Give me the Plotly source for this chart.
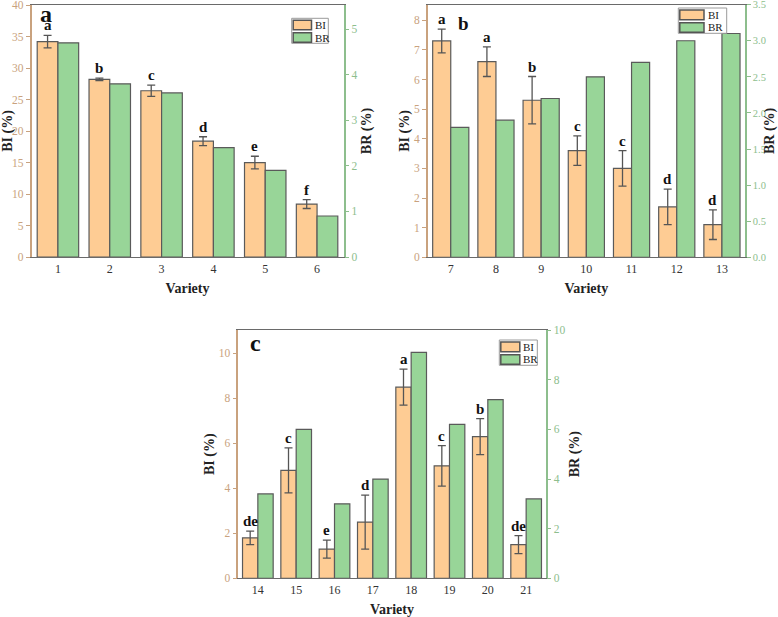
import plotly.graph_objects as go

# ---- Data ----
var_a = [1, 2, 3, 4, 5, 6]
bi_a = [34.2, 28.2, 26.4, 18.4, 15.0, 8.4]
bi_a_err = [1.0, 0.2, 0.9, 0.7, 1.0, 0.7]
br_a = [4.7, 3.8, 3.6, 2.4, 1.9, 0.9]
let_a = ["a", "b", "c", "d", "e", "f"]

var_b = [7, 8, 9, 10, 11, 12, 13]
bi_b = [7.3, 6.6, 5.3, 3.6, 3.0, 1.7, 1.1]
bi_b_err = [0.4, 0.5, 0.8, 0.5, 0.6, 0.6, 0.5]
br_b = [1.8, 1.9, 2.2, 2.5, 2.7, 3.0, 3.1]
let_b = ["a", "a", "b", "c", "c", "d", "d"]

var_c = [14, 15, 16, 17, 18, 19, 20, 21]
bi_c = [1.8, 4.8, 1.3, 2.5, 8.5, 5.0, 6.3, 1.5]
bi_c_err = [0.3, 1.0, 0.4, 1.2, 0.8, 0.9, 0.8, 0.4]
br_c = [3.4, 6.0, 3.0, 4.0, 9.1, 6.2, 7.2, 3.2]
let_c = ["de", "c", "e", "d", "a", "c", "b", "de"]

series_names = ["BI", "BR"]

W, H = 778, 617
FONT = "Liberation Serif"
ORANGE = "#FECC94"
GREEN = "#98D598"
OUTLINE = "#5a5a5a"
TAN = "#C9A27E"
GRN_AX = "#8DBE8D"

fig = go.Figure()

panels = [
    dict(key="a", x=var_a, bi=bi_a, err=bi_a_err, br=br_a, let=let_a,
         px=(31.5, 343.5), py=(5, 257), bi_rng=[0, 40.02], bi_dt=5,
         br_rng=[0, 5.53], br_dt=1, br_fmt="d",
         leg_box=(291.7, 18.3, 328.3, 43.3), lab=(45.5, 13.5, 24),
         st_bi=4, st_br=5, br_fs=11.5),
    dict(key="b", x=var_b, bi=bi_b, err=bi_b_err, br=br_b, let=let_b,
         px=(427.7, 745), py=(4.5, 257.3), bi_rng=[0, 8.53], bi_dt=1,
         br_rng=[0, 3.502], br_dt=0.5, br_fmt=".1f",
         leg_box=(678.3, 8, 726.7, 33.3), lab=(463, 23.5, 19),
         st_bi=1, st_br=3, br_fs=10.5),
    dict(key="c", x=var_c, bi=bi_c, err=bi_c_err, br=br_c, let=let_c,
         px=(238.3, 545.7), py=(330, 578.3), bi_rng=[0, 11.04], bi_dt=2,
         br_rng=[0, 10.005], br_dt=2, br_fmt="d",
         leg_box=(499.3, 340, 537.3, 365.3), lab=(256, 342.5, 24),
         st_bi=1, st_br=5, br_fs=11.5),
]

layout = dict(
    width=W, height=H, margin=dict(l=0, r=0, t=0, b=0, autoexpand=False),
    paper_bgcolor="white", plot_bgcolor="white",
    font=dict(family=FONT, size=12, color="#222"),
    showlegend=False,
)
annotations = []
shapes = []


def px2x(v):
    return v / W


def px2y(v):
    return 1 - v / H


for i, p in enumerate(panels):
    n = i * 2 + 1
    xa = "x" if i == 0 else f"x{i+1}"
    ya = "y" if n == 1 else f"y{n}"
    yb = f"y{n+1}"
    xkey = "xaxis" if i == 0 else f"xaxis{i+1}"
    ykey = "yaxis" if n == 1 else f"yaxis{n}"
    ykey2 = f"yaxis{n+1}"

    fig.add_trace(go.Bar(
        x=p["x"], y=p["bi"], xaxis=xa, yaxis=ya, name=series_names[0],
        width=0.4, offset=-0.4,
        marker=dict(color=ORANGE, line=dict(color=OUTLINE, width=1.2)),
        error_y=dict(type="data", array=p["err"], color="#555", thickness=1.3, width=4),
    ))
    fig.add_trace(go.Bar(
        x=p["x"], y=p["br"], xaxis=xa, yaxis=yb, name=series_names[1],
        width=0.4, offset=0.0,
        marker=dict(color=GREEN, line=dict(color=OUTLINE, width=1.2)),
    ))

    x0, x1 = p["px"]
    y0, y1 = p["py"]
    xs = p["x"]
    layout[xkey] = dict(
        domain=[px2x(x0), px2x(x1)], anchor=ya, range=[xs[0] - 0.51, xs[-1] + 0.51],
        tickmode="array", tickvals=xs, ticktext=[str(v) for v in xs],
        showline=True, linecolor="#6a6a6a", linewidth=1.2, mirror=True,
        ticks="", showgrid=False, zeroline=False, automargin=False,
        tickfont=dict(family=FONT, size=12, color="#333"),
        title=dict(text="<b>Variety</b>", font=dict(family=FONT, size=14, color="#222"), standoff=8),
    )
    layout[ykey] = dict(
        domain=[px2y(y1), px2y(y0)], anchor=xa, range=p["bi_rng"], dtick=p["bi_dt"], tick0=0,
        showline=True, linecolor=TAN, linewidth=1.5, ticks="outside", ticklen=4,
        tickcolor=TAN, showgrid=False, zeroline=False, automargin=False,
        ticklabeloverflow="allow",
        tickfont=dict(family=FONT, size=11.5, color=TAN),
        title=dict(text="<b>BI (%)</b>", font=dict(family=FONT, size=14, color="#222"), standoff=p["st_bi"]),
    )
    layout[ykey2] = dict(
        overlaying=ya, side="right", anchor=xa, range=p["br_rng"], dtick=p["br_dt"],
        tick0=0, tickformat=p["br_fmt"],
        showline=True, linecolor=GRN_AX, linewidth=1.5, ticks="outside", ticklen=4,
        tickcolor=GRN_AX, showgrid=False, zeroline=False, automargin=False,
        ticklabeloverflow="allow",
        tickfont=dict(family=FONT, size=p["br_fs"], color=GRN_AX),
        title=dict(text="<b>BR (%)</b>", font=dict(family=FONT, size=14, color="#222"), standoff=p["st_br"]),
    )

    # significance letters
    for xv, b, e, t in zip(p["x"], p["bi"], p["err"], p["let"]):
        annotations.append(dict(
            x=xv - 0.2, y=b + e, xref=xa, yref=ya, text=f"<b>{t}</b>",
            showarrow=False, yanchor="bottom", yshift=0,
            font=dict(family=FONT, size=15, color="#111"),
        ))
    # panel label
    lx, ly, ls = p["lab"]
    annotations.append(dict(
        x=px2x(lx), y=px2y(ly), xref="paper", yref="paper",
        text=f"<b>{p['key']}</b>", showarrow=False,
        xanchor="center", yanchor="middle",
        font=dict(family=FONT, size=ls, color="#111"),
    ))

    # custom legend box
    bx0, by0, bx1, by1 = p["leg_box"]
    shapes.append(dict(type="rect", xref="paper", yref="paper",
                       x0=px2x(bx0), x1=px2x(bx1), y0=px2y(by1), y1=px2y(by0),
                       line=dict(color="#9a9a9a", width=1), fillcolor="white", layer="above"))
    hh = (by1 - by0) / 2
    sw_w = (bx1 - bx0) * 0.5
    for k, (col, nm) in enumerate([(ORANGE, series_names[0]), (GREEN, series_names[1])]):
        sy0 = by0 + k * hh + 2
        sy1 = by0 + (k + 1) * hh - 1
        shapes.append(dict(type="rect", xref="paper", yref="paper",
                           x0=px2x(bx0 + 1.5), x1=px2x(bx0 + 1.5 + sw_w),
                           y0=px2y(sy1), y1=px2y(sy0),
                           line=dict(color="#555", width=1.5), fillcolor=col, layer="above"))
        annotations.append(dict(
            x=px2x(bx0 + 3 + sw_w), y=px2y((sy0 + sy1) / 2), xref="paper", yref="paper",
            text=nm, showarrow=False, xanchor="left", yanchor="middle",
            font=dict(family=FONT, size=11, color="#222"),
        ))

layout["annotations"] = annotations
layout["shapes"] = shapes
fig.update_layout(**layout)
fig.write_html("out.html", config={"displayModeBar": False},
               post_script="document.body.style.margin='0';document.body.style.overflow='hidden';")
